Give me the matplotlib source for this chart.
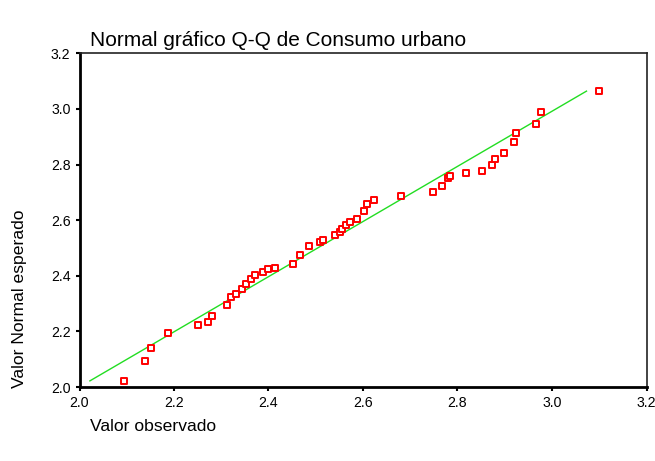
import matplotlib
matplotlib.use("Agg")
import matplotlib.pyplot as plt

plt.rcParams['font.family'] = ['Liberation Sans', 'DejaVu Sans']

observed = [2.094, 2.139, 2.152, 2.187, 2.251, 2.272, 2.281, 2.312, 2.321, 2.331,
            2.343, 2.352, 2.362, 2.371, 2.389, 2.400, 2.413, 2.451, 2.466, 2.485,
            2.510, 2.516, 2.541, 2.551, 2.556, 2.565, 2.572, 2.587, 2.602, 2.608,
            2.624, 2.680, 2.748, 2.767, 2.779, 2.785, 2.817, 2.852, 2.873, 2.880,
            2.899, 2.920, 2.923, 2.967, 2.977, 3.099]
expected = [2.021, 2.094, 2.139, 2.193, 2.222, 2.232, 2.256, 2.296, 2.324, 2.335,
            2.351, 2.369, 2.389, 2.403, 2.415, 2.423, 2.428, 2.442, 2.476, 2.506,
            2.522, 2.530, 2.546, 2.556, 2.568, 2.582, 2.593, 2.604, 2.633, 2.658,
            2.674, 2.688, 2.700, 2.724, 2.750, 2.759, 2.770, 2.778, 2.797, 2.821,
            2.841, 2.882, 2.915, 2.946, 2.989, 3.064]
line_x = [2.022, 3.073]
line_y = [2.022, 3.064]
ticks = [2.0, 2.2, 2.4, 2.6, 2.8, 3.0, 3.2]
tick_labels = ["2.0", "2.2", "2.4", "2.6", "2.8", "3.0", "3.2"]

fig = plt.figure(figsize=(6.55, 4.61), dpi=100)
ax = fig.add_axes([79.5/655, 1-387/461, (646.5-79.5)/655, (387-53.3)/461])
ax.plot(line_x, line_y, color='#22dd22', lw=1.0, zorder=2)
ax.scatter(observed, expected, marker='s', s=22, facecolors='white',
           edgecolors='#ff0000', linewidths=1.4, zorder=3)
ax.set_xlim(2.0, 3.2)
ax.set_ylim(2.0, 3.2)
ax.set_xticks(ticks)
ax.set_xticklabels(tick_labels)
ax.set_yticks(ticks)
ax.set_yticklabels(tick_labels)
ax.tick_params(direction='out', length=3, width=1.5, labelsize=10.2, pad=3.5)
for s in ['left', 'bottom']:
    ax.spines[s].set_linewidth(2)
for s in ['top', 'right']:
    ax.spines[s].set_linewidth(1.2)
    ax.spines[s].set_color('#222222')

fig.text(90/655, 1-40/461, "Normal gráfico Q-Q de Consumo urbano", fontsize=15,
         ha='left', va='center')
fig.text(20/655, 1-388/461, "Valor Normal esperado", fontsize=12.6, rotation=90,
         ha='center', va='bottom')
fig.text(90/655, 1-426/461, "Valor observado", fontsize=12.6, ha='left', va='center')

fig.savefig("out.png", dpi=100)
